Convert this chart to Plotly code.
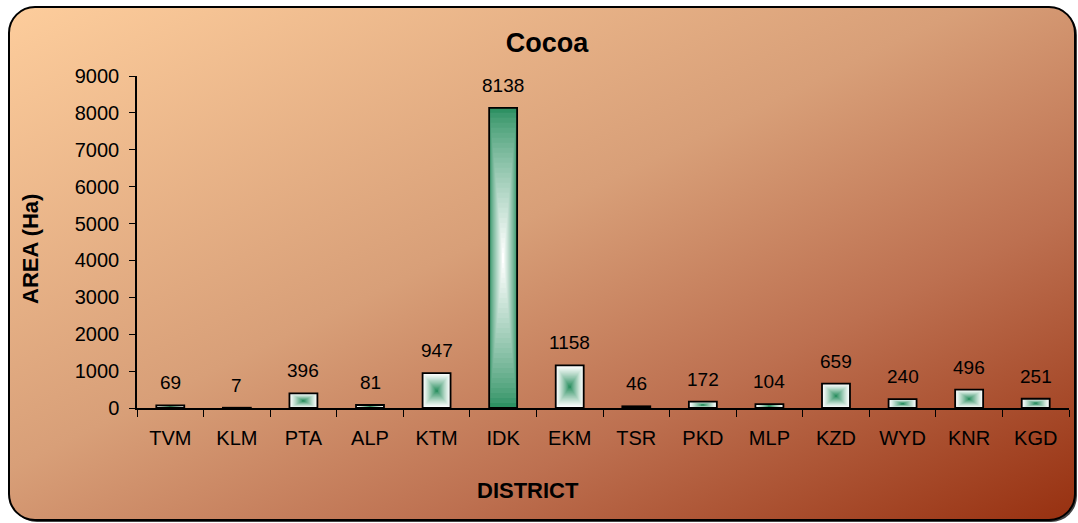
import base64
import plotly.graph_objects as go

districts = ['TVM', 'KLM', 'PTA', 'ALP', 'KTM', 'IDK', 'EKM', 'TSR', 'PKD', 'MLP', 'KZD', 'WYD', 'KNR', 'KGD']
area_ha = [69, 7, 396, 81, 947, 8138, 1158, 46, 172, 104, 659, 240, 496, 251]
y_ticks = [0, 1000, 2000, 3000, 4000, 5000, 6000, 7000, 8000, 9000]

W, H = 1078, 523
L, R, T, B = 137, 9, 76, 115
pw, ph = W - L - R, H - T - B

FONT = 'Liberation Sans, Arial, sans-serif'
GREEN = (46, 145, 99)
WHITE = (255, 255, 255)

# background: rounded box with diagonal peach -> rust gradient (Excel style)
svg = f'''<svg xmlns="http://www.w3.org/2000/svg" width="{W}" height="{H}" viewBox="0 0 {W} {H}">
<defs><linearGradient id="g" x1="0" y1="0" x2="1" y2="1">
<stop offset="0" stop-color="#fdcd9c"/>
<stop offset="0.45" stop-color="#d89f78"/>
<stop offset="0.7" stop-color="#bd7050"/>
<stop offset="1" stop-color="#973010"/>
</linearGradient></defs>
<rect x="11" y="9" width="1066" height="513" rx="26" ry="26" fill="#444"/>
<rect x="9" y="7" width="1066" height="513" rx="26" ry="26" fill="url(#g)" stroke="#000" stroke-width="2"/>
</svg>'''
bg_src = 'data:image/svg+xml;base64,' + base64.b64encode(svg.encode()).decode()


def lerp(c1, c2, t):
    return 'rgb(%d,%d,%d)' % tuple(round(a + (b - a) * t) for a, b in zip(c1, c2))


fig = go.Figure()

# fake rectangular gradient: nested bars shrinking towards the centre
bar_w = 0.42
n_layers = 30
for i in range(n_layers):
    s = i / n_layers
    t = i / (n_layers - 1)
    cols = []
    for v in area_ha:
        if v > 5000:
            cols.append(lerp(GREEN, WHITE, t ** 0.8))
        else:
            cols.append(lerp(WHITE, GREEN, t ** 1.2))
    fig.add_trace(go.Bar(
        x=districts,
        y=[v * (1 - s) for v in area_ha],
        base=[v * s / 2 for v in area_ha],
        width=bar_w * (1 - s),
        marker=dict(color=cols, line=dict(width=0)),
        showlegend=False, hoverinfo='skip'
    ))

# outline
fig.add_trace(go.Bar(
    x=districts, y=area_ha, width=bar_w,
    marker=dict(color='rgba(0,0,0,0)', line=dict(color='black', width=1.8)),
    showlegend=False
))

for d, v in zip(districts, area_ha):
    fig.add_annotation(x=d, y=v, text=str(v), showarrow=False, yanchor='bottom', yshift=10,
                       font=dict(family=FONT, size=19, color='black'))

fig.add_annotation(xref='paper', yref='paper', x=(528 - L) / pw, y=(H - B - 490) / ph,
                   text='<b>DISTRICT</b>', showarrow=False, yanchor='middle',
                   font=dict(family=FONT, size=22, color='black'))
fig.add_annotation(xref='paper', yref='paper', x=(30 - L) / pw, y=(H - B - 249) / ph,
                   text='<b>AREA (Ha)</b>', showarrow=False, textangle=-90,
                   xanchor='center', yanchor='middle',
                   font=dict(family=FONT, size=22, color='black'))

fig.add_layout_image(dict(
    source=bg_src, xref='paper', yref='paper',
    x=-L / pw, y=1 + T / ph, sizex=W / pw, sizey=H / ph,
    xanchor='left', yanchor='top', sizing='stretch', layer='below'
))

fig.update_layout(
    width=W, height=H,
    margin=dict(l=L, r=R, t=T, b=B),
    paper_bgcolor='white',
    plot_bgcolor='rgba(0,0,0,0)',
    barmode='overlay',
    title=dict(text='<b>Cocoa</b>', x=547 / W, y=1 - 43 / H, xanchor='center', yanchor='middle',
               font=dict(family=FONT, size=27, color='black')),
    xaxis=dict(
        range=[-0.5, 13.5], tickson='boundaries', ticks='outside', ticklen=7,
        tickcolor='black', showline=True, linecolor='black', linewidth=1.5,
        showgrid=False, tickfont=dict(family=FONT, size=20, color='black'),
        ticklabelstandoff=11
    ),
    yaxis=dict(
        range=[0, 9000], tickvals=y_ticks, ticks='outside', ticklen=6,
        tickcolor='black', showline=True, linecolor='black', linewidth=1.5,
        showgrid=False, zeroline=False, tickfont=dict(family=FONT, size=20, color='black'),
        ticklabelstandoff=6
    ),
)

# page has a default 8px body margin; remove it so the figure fills the window
fig.write_html('out.html', config={'displayModeBar': False},
               post_script="document.body.style.margin='0';document.body.style.overflow='hidden';")
